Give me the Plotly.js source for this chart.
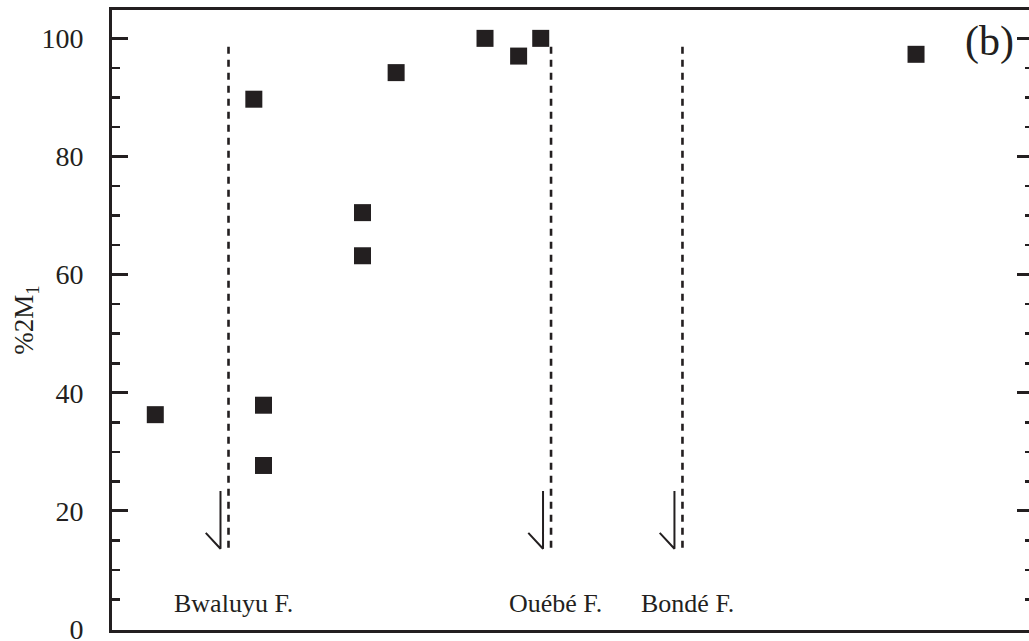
<!DOCTYPE html>
<html>
<head>
<meta charset="utf-8">
<script src="https://cdn.plot.ly/plotly-3.0.1.min.js"></script>
<style>
html, body { margin: 0; padding: 0; overflow: hidden; background: #fff; }
#chart { width: 1040px; height: 641px; }
</style>
</head>
<body>
<div id="chart"></div>
<script>
// Sample stratigraphic position (arbitrary units along section) and %2M1
var samplePos = [4.7, 15.4, 16.45, 16.45, 27.2, 27.2, 30.85, 40.5, 44.15, 46.55, 87.3];
var pct2M1    = [36.3, 89.7, 37.9, 27.7, 70.5, 63.2, 94.2, 100, 97.0, 100, 97.3];

// Formation boundaries (position) and labels
var boundaryPos   = [12.65, 47.67, 61.94];
var formationNames = ["Bwaluyu F.", "Ouébé F.", "Bondé F."];
var boundaryTop = 98.6, boundaryBottom = 13.7;

var yTickVals = [0, 20, 40, 60, 80, 100];
var yTickText = ["0", "20", "40", "60", "80", "100"];
var panelLabel = "(b)";

var ink = "#231f20";
var serif = "Liberation Serif, Times New Roman, serif";

var traces = [];

// dashed boundary lines
boundaryPos.forEach(function (bx) {
  traces.push({
    x: [bx, bx], y: [boundaryTop, boundaryBottom],
    mode: "lines", hoverinfo: "skip", showlegend: false,
    line: { color: ink, width: 2.6, dash: "7px,6px" }
  });
  // half-arrow (harpoon) pointing down, just left of the boundary
  var ax = bx - 0.87, dx = 1.6;
  traces.push({
    x: [ax, ax, ax - dx], y: [23.4, 13.6, 16.3],
    mode: "lines", hoverinfo: "skip", showlegend: false,
    line: { color: ink, width: 2 }
  });
});

traces.push({
  x: samplePos, y: pct2M1,
  mode: "markers", type: "scatter", showlegend: false,
  marker: { symbol: "square", size: 17, color: ink, line: { width: 0 } }
});

var annotations = formationNames.map(function (name, i) {
  return {
    x: boundaryPos[i] + 0.5, y: 4.4, xref: "x", yref: "y",
    text: name, showarrow: false, xanchor: "center", yanchor: "middle",
    font: { family: serif, size: 26, color: ink }
  };
});
annotations.push({
  x: 95.3, y: 99.4, xref: "x", yref: "y", text: panelLabel, showarrow: false,
  xanchor: "center", yanchor: "middle",
  font: { family: serif, size: 42, color: ink }
});

var layout = {
  width: 1040, height: 641,
  margin: { l: 112, r: 7, t: 10, b: 11, pad: 0 },
  paper_bgcolor: "#fff", plot_bgcolor: "#fff",
  showlegend: false,
  font: { family: serif, color: ink },
  xaxis: {
    range: [0, 100], showgrid: false, zeroline: false,
    showline: true, linewidth: 3, linecolor: ink, mirror: true,
    ticks: "", showticklabels: false, fixedrange: true
  },
  yaxis: {
    range: [-0.15, 104.8], showgrid: false, zeroline: false,
    showline: true, linewidth: 3, linecolor: ink, mirror: "ticks",
    ticks: "inside", ticklen: 16, tickwidth: 3, tickcolor: ink,
    tickvals: yTickVals, ticktext: yTickText,
    tickfont: { family: serif, size: 28, color: ink },
    ticklabelstandoff: 20,
    ticklabeloverflow: "allow",
    minor: { dtick: 5, ticks: "inside", ticklen: 8, tickwidth: 2.5, tickcolor: ink },
    title: { text: "%2M<sub>1</sub>", font: { family: serif, size: 27, color: ink }, standoff: 0 },
    fixedrange: true
  },
  annotations: annotations
};

Plotly.newPlot("chart", traces, layout, { staticPlot: true, displayModeBar: false });
</script>
</body>
</html>
